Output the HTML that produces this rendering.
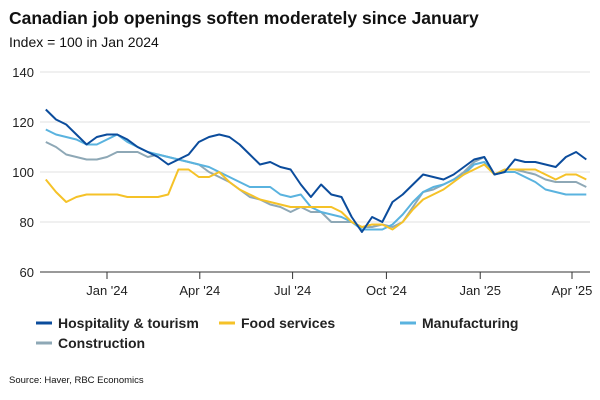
<!DOCTYPE html>
<html><head><meta charset="utf-8"><style>
body{margin:0;background:#fff;font-family:"Liberation Sans",Arial,sans-serif;}
#wrap{position:relative;width:600px;height:400px;overflow:hidden;}
</style></head><body>
<div id="wrap">
<svg id="chart" width="600" height="400" xmlns="http://www.w3.org/2000/svg">
<text x="9" y="24" font-size="17.5" font-weight="bold" fill="#111">Canadian job openings soften moderately since January</text>
<text x="9" y="47" font-size="14" fill="#111">Index = 100 in Jan 2024</text>
<g id="grid"></g><g id="series"></g><g id="axes"></g>
<g id="legend" font-size="14" font-weight="bold" fill="#222">
<g><line x1="36" y1="323" x2="52" y2="323" stroke="#0b4c9c" stroke-width="3"/><text x="58" y="328">Hospitality &amp; tourism</text></g>
<g><line x1="219" y1="323" x2="235" y2="323" stroke="#f5c228" stroke-width="3"/><text x="241" y="328">Food services</text></g>
<g><line x1="400" y1="323" x2="416" y2="323" stroke="#5ab3df" stroke-width="3"/><text x="422" y="328">Manufacturing</text></g>
<g><line x1="36" y1="343" x2="52" y2="343" stroke="#8ea8b6" stroke-width="3"/><text x="58" y="348">Construction</text></g>
</g>
<text x="9" y="383" font-size="9.5" fill="#111">Source: Haver, RBC Economics</text>
</svg>
</div>
<script>
// day offsets from Jan 1 2024
const days = [-60,-50,-40,-30,-20,-10,0,10,20,30,40,50,60,70,80,90,100,110,120,130,140,150,160,170,180,190,200,210,220,230,240,250,260,270,280,290,300,310,320,330,340,350,360,370,380,390,400,410,420,430,440,450,460,470];
const hospitality = [125,121,119,115,111,114,115,115,113,110,108,106,103,105,107,112,114,115,114,111,107,103,104,102,101,95,90,95,91,90,82,76,82,80,88,91,95,99,98,97,99,102,105,106,99,100,105,104,104,103,102,106,108,105];
const food = [97,92,88,90,91,91,91,91,90,90,90,90,91,101,101,98,98,100,96,93,91,89,88,87,86,86,86,86,86,84,80,78,79,79,77,80,85,89,91,93,96,99,101,103,99,101,101,101,101,99,97,99,99,97];
const manufacturing = [117,115,114,113,111,111,113,115,112,110,108,107,106,105,104,103,102,100,98,96,94,94,94,91,90,91,86,84,83,82,80,77,77,77,79,83,88,92,94,95,97,99,103,104,99,100,100,98,96,93,92,91,91,91];
const construction = [112,110,107,106,105,105,106,108,108,108,106,107,106,105,104,103,100,98,96,93,90,89,87,86,84,86,84,84,80,80,80,78,78,79,78,80,86,92,93,95,97,100,104,106,99,101,101,100,99,97,96,96,96,94];
const yTicks = [60,80,100,120,140];
const xTickDays = [0,91,182,274,366,456];
const xTickLabels = ["Jan '24","Apr '24","Jul '24","Oct '24","Jan '25","Apr '25"];

const NS="http://www.w3.org/2000/svg";
const X0=40,X1=590;
function xs(d){return 107+d*(465/456);}
function ys(v){return 272-(v-60)*2.5;}
function mk(tag,attrs,parent){const e=document.createElementNS(NS,tag);for(const k in attrs)e.setAttribute(k,attrs[k]);parent.appendChild(e);return e;}
const grid=document.getElementById('grid'),axes=document.getElementById('axes'),ser=document.getElementById('series');
yTicks.forEach(v=>{
  if(v>60){const l=mk('line',{x1:X0,x2:X1,y1:ys(v),y2:ys(v),stroke:'#e2e2e2','stroke-width':1},grid);
  
  }
  const t=mk('text',{x:34,y:ys(v)+5,'text-anchor':'end','font-size':13,fill:'#222'},axes);
  t.textContent=v;
  
  
});
const ax=mk('line',{x1:X0,x2:X1,y1:272,y2:272,stroke:'#333','stroke-width':1},axes);


xTickDays.forEach((d,i)=>{
  const tk=mk('line',{x1:xs(d),x2:xs(d),y1:272,y2:279,stroke:'#333','stroke-width':1},axes);
  
  
  const t=mk('text',{x:xs(d),y:295,'text-anchor':'middle','font-size':13,fill:'#222'},axes);
  t.textContent=xTickLabels[i];
  
  
});
function line(vals,color,name){
  const p=mk('polyline',{points:vals.map((v,i)=>xs(days[i]).toFixed(1)+','+ys(v).toFixed(1)).join(' '),fill:'none',stroke:color,'stroke-width':2,'stroke-linejoin':'round'},ser);
  
  
}
line(construction,'#8ea8b6','construction-line');
line(manufacturing,'#5ab3df','manufacturing-line');
line(food,'#f5c228','food-services-line');
line(hospitality,'#0b4c9c','hospitality-line');
</script>
</body></html>
